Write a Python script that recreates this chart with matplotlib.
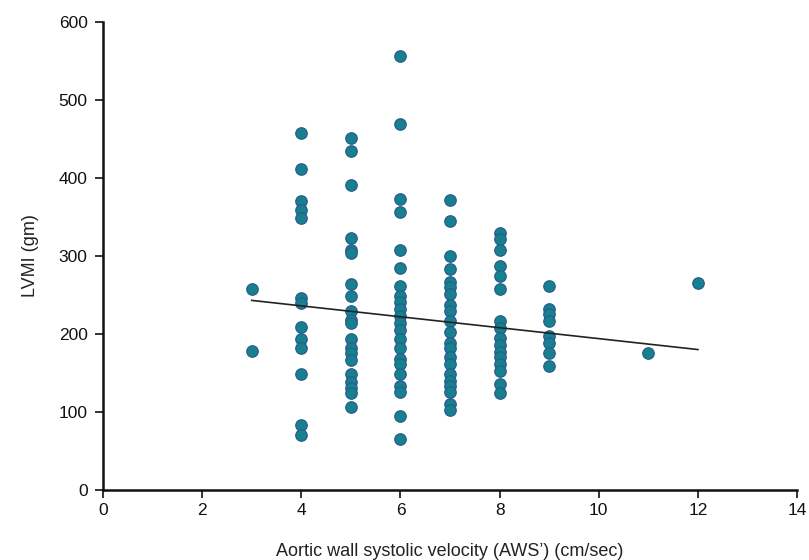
import matplotlib.pyplot as plt
import numpy as np

plt.rcParams['font.family'] = ['Liberation Sans', 'DejaVu Sans']

# LVMI values grouped by AWS' velocity (cm/sec)
lvmi_by_aws = {
    3: [258, 178],
    4: [458, 411, 371, 359, 349, 246, 240, 209, 194, 182, 149, 83, 71],
    5: [451, 434, 391, 323, 308, 304, 264, 249, 230, 218, 214, 194, 182, 175,
        166, 149, 138, 131, 124, 107],
    6: [556, 469, 373, 356, 307, 285, 262, 248, 241, 232, 223, 214, 205, 194,
        182, 168, 161, 149, 133, 125, 95, 65],
    7: [372, 345, 300, 283, 267, 260, 251, 237, 229, 216, 202, 189, 182, 170,
        161, 149, 140, 133, 126, 110, 103],
    8: [329, 322, 308, 287, 274, 257, 216, 207, 195, 186, 177, 170, 161, 152,
        136, 124],
    9: [262, 232, 225, 216, 198, 189, 175, 159],
    11: [175],
    12: [265],
}

# regression line endpoints
fit_x = [3, 12]
fit_y = [243, 180]

xs = []
ys = []
for v, vals in lvmi_by_aws.items():
    xs += [v] * len(vals)
    ys += vals

fig = plt.figure(figsize=(8.09, 5.6), dpi=100)
ax = fig.add_axes([0.1273, 0.125, 0.858, 0.836])

ax.scatter(xs, ys, s=68, color='#17808f', edgecolor='#2a5d8e', linewidth=0.9, zorder=3)
ax.plot(fit_x, fit_y, color='#222222', linewidth=1.2, zorder=4)

ax.set_xlim(0, 14)
ax.set_ylim(0, 600)
ax.set_xticks(np.arange(0, 15, 2))
ax.set_yticks(np.arange(0, 601, 100))

for side in ['top', 'right']:
    ax.spines[side].set_visible(False)
for side in ['left', 'bottom']:
    ax.spines[side].set_linewidth(1.8)
    ax.spines[side].set_color('#111111')
ax.tick_params(direction='out', length=6, width=1.2, labelsize=12.5, colors='#111111')
ax.tick_params(axis='y', pad=5)

ax.set_xlabel("Aortic wall systolic velocity (AWS\u2019) (cm/sec)", fontsize=13, labelpad=18,
              color='#222222')
ax.set_ylabel("LVMI (gm)", fontsize=13, labelpad=14, color='#222222')

fig.savefig('out.png', dpi=100)
